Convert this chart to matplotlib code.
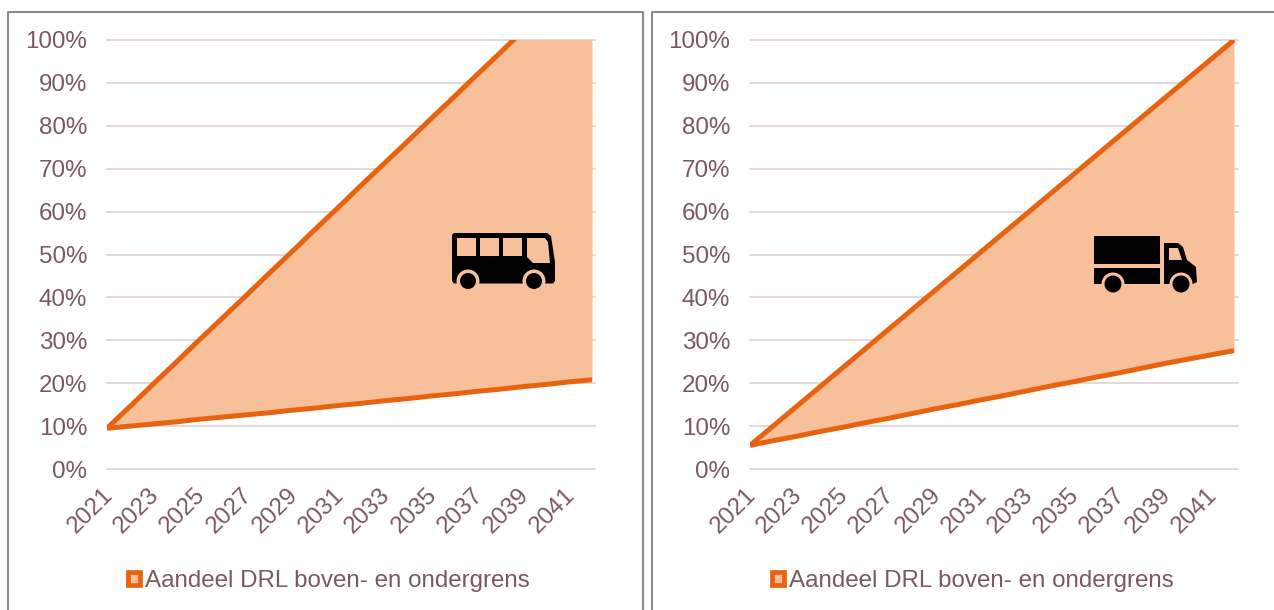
import matplotlib
matplotlib.use("Agg")
import matplotlib.pyplot as plt
from matplotlib.patches import Patch, Polygon, Circle, Rectangle
from matplotlib.transforms import Affine2D

plt.rcParams['font.family'] = ['Liberation Sans', 'DejaVu Sans']

years = list(range(2021, 2043))
tick_years = years[::2]
pct_ticks = [0, 10, 20, 30, 40, 50, 60, 70, 80, 90, 100]
pct_labels = ['0%', '10%', '20%', '30%', '40%', '50%', '60%', '70%', '80%', '90%', '100%']
legend_label = 'Aandeel DRL boven- en ondergrens'

bus_upper = [9.5, 14.6, 19.8, 24.9, 30.1, 35.2, 40.3, 45.5, 50.6, 55.8, 60.9,
             66.1, 71.2, 76.3, 81.5, 86.6, 91.8, 96.9, 102.1, 107.2, 112.4, 117.5]
bus_lower = [9.5, 10.0, 10.5, 11.0, 11.6, 12.1, 12.6, 13.1, 13.7, 14.2, 14.8,
             15.3, 15.9, 16.4, 17.0, 17.5, 18.1, 18.6, 19.2, 19.7, 20.3, 20.8]
truck_upper = [5.5, 10.0, 14.5, 19.0, 23.5, 28.0, 32.5, 37.0, 41.5, 46.0, 50.5,
               55.0, 59.5, 64.0, 68.5, 73.0, 77.5, 82.0, 86.5, 91.0, 95.5, 100.0]
truck_lower = [5.5, 6.6, 7.6, 8.7, 9.7, 10.8, 11.8, 12.9, 14.0, 15.0, 16.1,
               17.1, 18.2, 19.3, 20.3, 21.4, 22.4, 23.5, 24.6, 25.6, 26.6, 27.6]

LINE = '#E8630F'
FILL = '#F8C09A'
GRID = '#E0D0D3'
TEXT = '#7A5A5C'
FRAME = '#8C8C8C'
W, H = 1274, 610
FS = 17.4

fig = plt.figure(figsize=(W / 100, H / 100), dpi=100)
fig.patch.set_facecolor('white')


def make_panel(x0, x1, area_end, upper, lower, legend_cx):
    y0, y1 = 469, 40
    ax = fig.add_axes([x0 / W, 1 - y0 / H, (x1 - x0) / W, (y0 - y1) / H])
    ax.set_xlim(2021, 2021 + (x1 - x0) / ((area_end - x0) / 21))
    ax.set_ylim(0, 100)
    ax.fill_between(years, lower, upper, color=FILL, lw=0, zorder=2)
    ax.plot(years, upper, color=LINE, lw=3.6, solid_capstyle='butt', zorder=3)
    ax.plot(years, lower, color=LINE, lw=3.6, solid_capstyle='butt', zorder=3)
    for t in pct_ticks:
        ax.axhline(t, color=GRID, lw=1.2, zorder=1, clip_on=False)
    for s in ax.spines.values():
        s.set_visible(False)
    ax.set_yticks(pct_ticks, pct_labels)
    ax.set_xticks(tick_years, [str(y) for y in tick_years])
    ax.tick_params(axis='y', length=0, pad=14.3, labelsize=FS, labelcolor=TEXT)
    ax.tick_params(axis='x', length=0, pad=8, labelsize=FS, labelcolor=TEXT)
    for lab in ax.get_xticklabels():
        lab.set_rotation(45)
        lab.set_ha('right')
        lab.set_va('top')
        lab.set_rotation_mode('anchor')
        lab.set_transform(lab.get_transform() + Affine2D().translate(-5, -4))
    ax.patch.set_alpha(0)
    handle = Patch(facecolor=FILL, edgecolor=LINE, lw=3.4, joinstyle='round')
    ax.legend([handle], [legend_label], loc='center', frameon=False,
              bbox_to_anchor=(legend_cx + 0.5, H - 581),
              bbox_transform=Affine2D(),
              fontsize=FS, labelcolor=TEXT, handlelength=0.5, handleheight=0.5,
              handletextpad=0.22, borderpad=0, borderaxespad=0)
    return ax


make_panel(107, 595, 592, bus_upper, bus_lower, 328.5)
make_panel(750, 1238, 1234, truck_upper, truck_lower, 972.5)

ov = fig.add_axes([0, 0, 1, 1], zorder=5)
ov.set_xlim(0, W)
ov.set_ylim(H, 0)
ov.axis('off')

# panel frames (open at the bottom, as in the cropped source)
for pts in ([(8, 620), (8, 11.5), (642.5, 11.5), (642.5, 620)],
            [(652, 620), (652, 11.5), (1280, 11.5)]):
    xs, ys = zip(*pts)
    ov.plot(xs, ys, color=FRAME, lw=1.5)

# bus icon
ov.add_patch(Polygon([(454, 233), (547, 233), (551, 236), (555, 262), (555, 281),
                      (553, 283.5), (454, 283.5), (452, 281), (452, 235)],
                     closed=True, fc='black', ec='none', joinstyle='round'))
for x in (457, 480, 503):
    ov.add_patch(Rectangle((x, 238), 19, 18, fc=FILL, ec='none'))
ov.add_patch(Polygon([(527, 238), (545, 238), (548, 242), (550, 263), (533, 263), (527, 257)],
                     closed=True, fc=FILL, ec='none'))
for cx in (468, 534):
    ov.add_patch(Circle((cx, 281), 11.5, fc=FILL, ec='none'))
    ov.add_patch(Circle((cx, 281), 8, fc='black', ec='none'))

# truck icon
ov.add_patch(Rectangle((1094, 236), 66, 28, fc='black', ec='none'))
ov.add_patch(Rectangle((1094, 268), 66, 16, fc='black', ec='none'))
ov.add_patch(Polygon([(1164, 243), (1178, 243), (1183, 247), (1187, 260), (1196, 267),
                      (1197, 282), (1193, 284), (1164, 284)],
                     closed=True, fc='black', ec='none'))
ov.add_patch(Polygon([(1169, 248), (1178, 248), (1182, 260), (1169, 260)],
                     closed=True, fc=FILL, ec='none'))
for cx in (1113, 1181):
    ov.add_patch(Circle((cx, 284), 11.5, fc=FILL, ec='none'))
    ov.add_patch(Circle((cx, 284), 8.5, fc='black', ec='none'))

fig.savefig('out.png', dpi=100)
